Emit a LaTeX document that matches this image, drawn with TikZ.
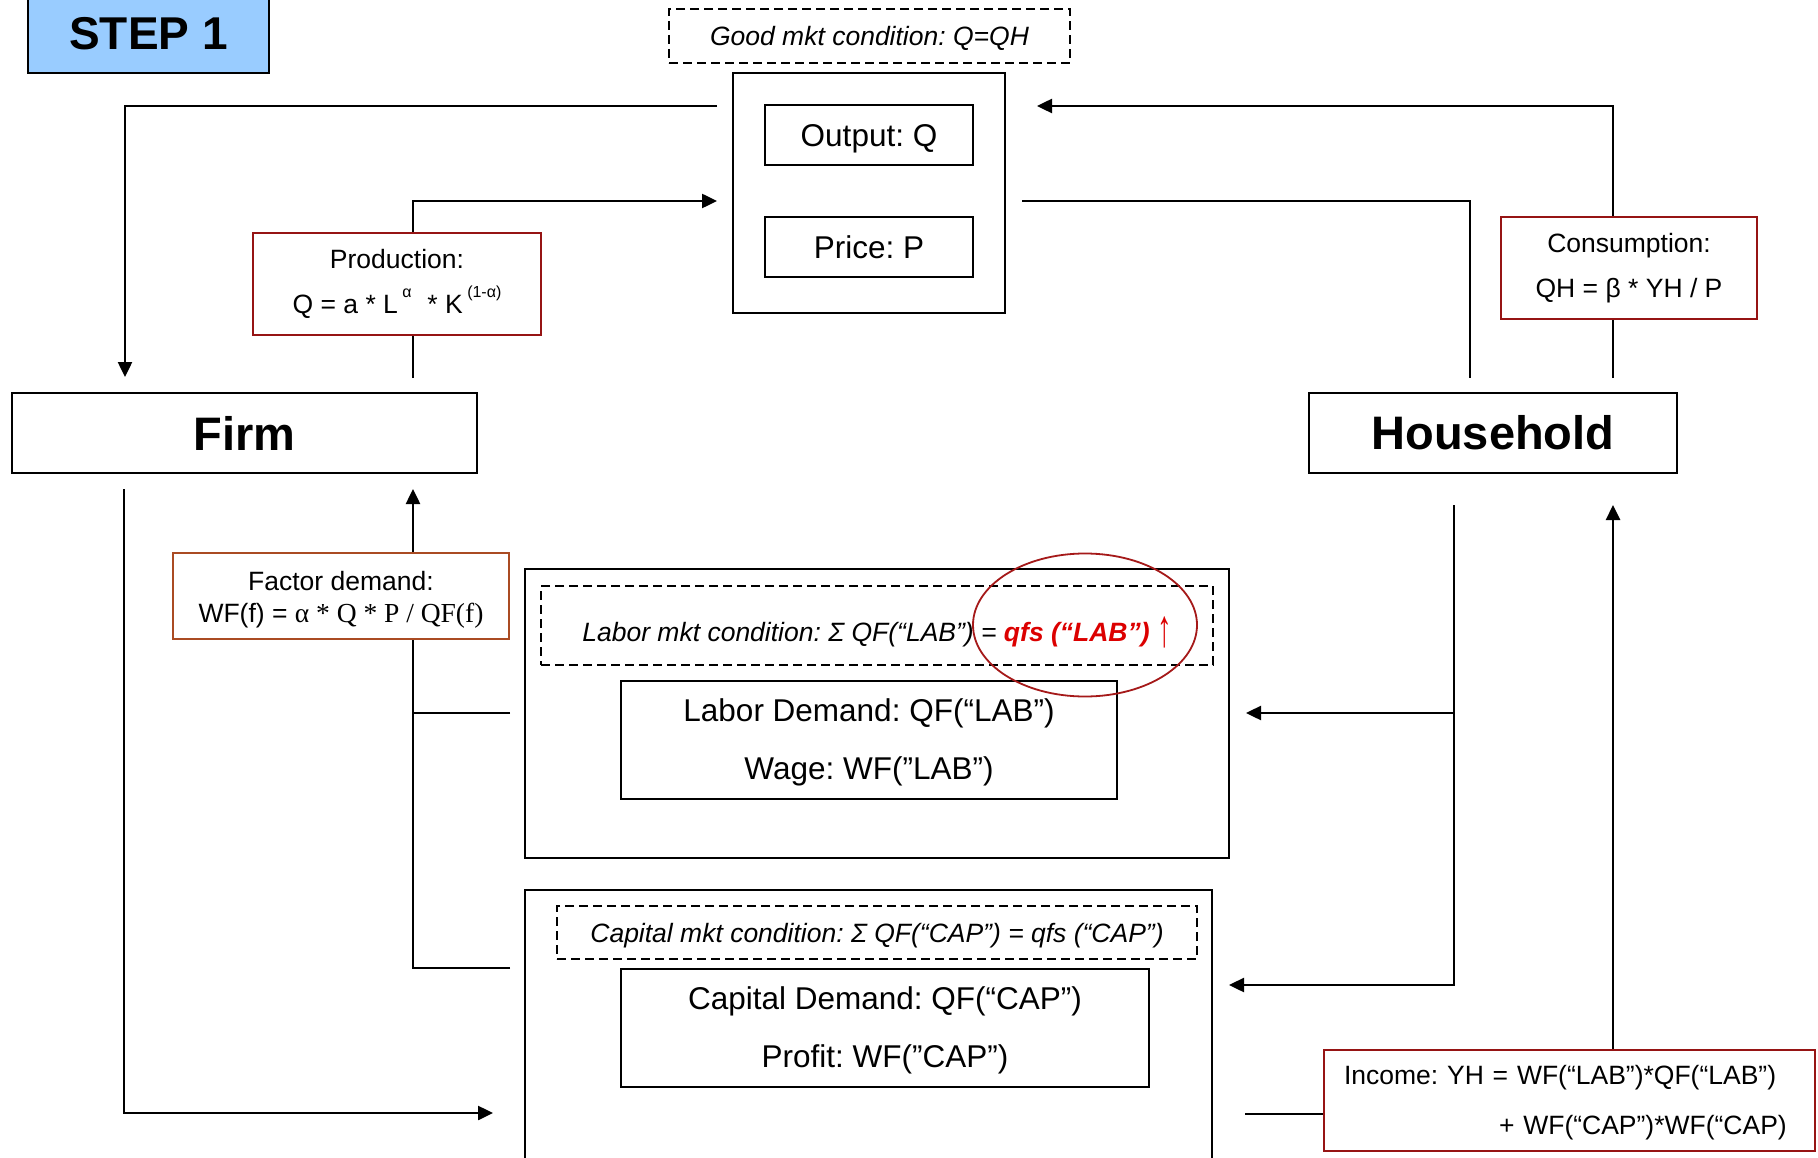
\documentclass[tikz,border=0pt]{standalone}
\usepackage{fontspec}
\setmainfont{Liberation Sans}
\newfontfamily\serifface{Liberation Serif}
\usetikzlibrary{arrows.meta,backgrounds,shapes.geometric}
\definecolor{stepblue}{RGB}{153,204,255}
\definecolor{eqred}{RGB}{150,20,20}
\definecolor{eqbrown}{RGB}{170,75,35}
\definecolor{ringred}{RGB}{165,25,25}
\definecolor{hotred}{RGB}{220,0,0}
\frenchspacing
% small raised exponent
\newcommand\sups[1]{\raisebox{0.6em}{\fontsize{16}{16}\selectfont #1}}

\begin{document}
\begin{tikzpicture}[x=1pt,y=-1pt,
  box/.style={draw=black, line width=1.8pt, fill=white, inner sep=0pt, align=center},
  eqbox/.style={box, draw=eqred},
  dashbox/.style={box, dash pattern=on 9pt off 5pt},
  bigbold/.style={font=\fontsize{47}{56}\selectfont\bfseries},
  boxtext/.style={font=\fontsize{31.5}{58}\selectfont},
  labeltext/.style={font=\fontsize{26.5}{45}\selectfont},
  condtext/.style={font=\fontsize{26.5}{32}\selectfont\itshape},
  conn/.style={line width=2.5pt},
  arr/.style={conn, -{Triangle[length=15pt,width=14pt]}}]
\useasboundingbox (0,0) rectangle (1818,1158);

% title tag
\node[box, fill=stepblue, minimum width=241pt, minimum height=78pt,
      font=\fontsize{46}{46}\selectfont\bfseries] (step) at (148.5,34) {STEP 1};

% goods market
\node[dashbox, minimum width=401pt, minimum height=54pt, condtext,
      text height=19pt, text depth=0pt] (goodmkt) at (869.5,36) {Good mkt condition: Q=QH};
\node[box, minimum width=272pt, minimum height=240pt] (goods) at (869,193) {};
\node[box, minimum width=208pt, minimum height=60pt, boxtext,
      text height=24pt, text depth=0pt] (output) at (869,135) {Output: Q};
\node[box, minimum width=208pt, minimum height=60pt, boxtext,
      text height=23pt, text depth=0pt] (price) at (869,247) {Price: P};

% agents
\node[box, minimum width=465pt, minimum height=80pt, bigbold] (firm) at (244.5,433) {Firm};
\node[box, minimum width=368pt, minimum height=80pt, bigbold] (hh) at (1493,433) {Household};

% behavioural equations
\node[eqbox, minimum width=288pt, minimum height=102pt, labeltext] (prod) at (397,284)
  {Production:\\Q = a * L\,\sups{α}\hspace{0.6em}* K\,\sups{(1-α)}};
\node[eqbox, minimum width=256pt, minimum height=102pt, labeltext] (cons) at (1629,268)
  {Consumption:\\QH = β * YH / P};
\node[box, draw=eqbrown, minimum width=336pt, minimum height=86pt,
      font=\fontsize{26.5}{32}\selectfont] (factor) at (341,596)
  {\rule{0pt}{26pt}Factor demand:\\WF(f) = {\serifface\fontsize{27.5}{32}\selectfont α * Q * P / QF(f)}};

% labour market
\node[box, minimum width=704pt, minimum height=289pt] (labor) at (877,713.5) {};
\node[dashbox, minimum width=672pt, minimum height=79pt, condtext,
      text height=32pt, text depth=0pt] (labormkt) at (877,625.5)
  {Labor mkt condition: Σ QF(“LAB”) = {\bfseries\color{hotred}qfs (“LAB”)
   {\normalfont\raisebox{-5pt}{\scalebox{1.1}[2.0]{↑}}}}};
\node[box, minimum width=496pt, minimum height=118pt, boxtext] (labordem) at (869,740)
  {\rule{0pt}{27pt}Labor Demand: QF(“LAB”)\\Wage: WF(”LAB”)};
\node[draw=ringred, line width=1.8pt, ellipse, minimum width=224pt, minimum height=143pt] (ring) at (1085,625) {};

% capital market
\node[box, minimum width=687pt, minimum height=285pt] (capital) at (868.5,1032.5) {};
\node[dashbox, minimum width=640pt, minimum height=53pt, condtext,
      text height=19pt, text depth=0pt] (capmkt) at (877,932.5)
  {Capital mkt condition: Σ QF(“CAP”) = qfs (“CAP”)};
\node[box, minimum width=528pt, minimum height=118pt, boxtext] (capdem) at (885,1028)
  {\rule{0pt}{28pt}Capital Demand: QF(“CAP”)\\Profit: WF(”CAP”)};

% household income
\node[eqbox, minimum width=491pt, minimum height=101pt, align=left, text width=451pt,
      inner xsep=20pt, font=\fontsize{26.5}{50}\selectfont] (income) at (1569.5,1100.5)
  {\rule{0pt}{24pt}Income: YH = WF(“LAB”)*QF(“LAB”)\\\hspace*{155pt}+ WF(“CAP”)*WF(“CAP)};

% free ends of the flows
\coordinate (a0) at (717,106);  \coordinate (a1) at (125,377);
\coordinate (b0) at (413,378);  \coordinate (b1) at (717,201);
\coordinate (c0) at (1613,378); \coordinate (c1) at (1037,106);
\coordinate (d0) at (1022,201); \coordinate (d1) at (1470,378);
\coordinate (e0) at (124,489);  \coordinate (e1) at (493,1113);
\coordinate (f0) at (510,968);  \coordinate (f1) at (413,489);
\coordinate (f2) at (510,713);
\coordinate (g0) at (1454,505); \coordinate (g1) at (1229,985);
\coordinate (g2) at (1246,713);
\coordinate (h0) at (1245,1114); \coordinate (h1) at (1613,505);

\begin{scope}[on background layer]
  \fill[white] (0,0) rectangle (1818,1158);
  \draw[arr] (a0) -| (a1);
  \draw[arr] (b0) |- (b1);
  \draw[arr] (c0) |- (c1);
  \draw[conn] (d0) -| (d1);
  \draw[arr] (e0) |- (e1);
  \draw[arr] (f0) -| (f1);
  \draw[conn] (f2) -- (f2 -| f1);
  \draw[arr] (g0) |- (g1);
  \draw[arr] (g2 -| g0) -- (g2);
  \draw[conn] (h0) -- (h0 -| income.west);
  \draw[arr] (income.north -| h1) -- (h1);
\end{scope}
\end{tikzpicture}
\end{document}
